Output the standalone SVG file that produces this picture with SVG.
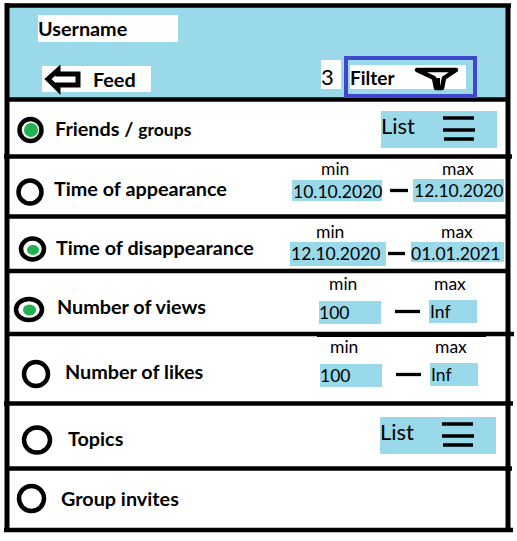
<svg xmlns="http://www.w3.org/2000/svg" width="517" height="541" viewBox="0 0 517 541">
<style>
text{font-family:Lato,"Liberation Sans",sans-serif;fill:#000}
.b{font-weight:700;font-size:19.800px}
.r{font-size:17.500px}
.box{fill:#99d9ea}
.w{fill:#fff}
.ln{stroke:#000;stroke-width:4.500;fill:none}
.d{stroke:#000;stroke-width:3.300;fill:none}
.rad{fill:#fff;stroke:#000;stroke-width:4.500}
.dot{fill:#22b14c}
</style>
<rect width="517" height="541" fill="#fff"/>
<rect id="header" x="8" y="6" width="500" height="93" class="box"/>
<g id="connectors">
<path class="ln" d="M7 3V532M508 6V532" style="stroke-width:5"/>
<path class="ln" d="M5 5.500H511"/>
<path class="ln" d="M5 99.500H508M4 156.500H512M5 216.500H508M5 271H508M5 334H514M4 403.500H513M5 468.500H512M4 530H513"/>
<path class="ln" d="M317 334.500H486" style="stroke-width:5"/>
</g>
<g id="username"><rect x="38" y="15" width="140" height="27" class="w"/><text x="38" y="36" class="b">Username</text></g>
<g id="feed"><rect x="42" y="66" width="109" height="26" class="w"/>
<path d="M48 79L58 70V74H78V85H58V89Z" fill="#fff" stroke="#000" stroke-width="5"/>
<text x="93" y="87" class="b">Feed</text></g>
<g id="count"><rect x="321" y="60" width="20" height="29" class="w"/><text x="321" y="85" style="font-size:22px">3</text></g>
<g id="filter"><rect x="346" y="58" width="129" height="38" class="box"/>
<rect x="350" y="65" width="116" height="24" class="w"/>
<path d="M346 58H475V96H346Z" fill="none" stroke="#3f48cc" stroke-width="4"/>
<text x="350" y="85" class="b" style="font-size:19px">Filter</text>
<path d="M417 70H456L444 78L442 88H436L434 78Z" fill="#fff" stroke="#000" stroke-width="4.500" stroke-linejoin="round"/>
<path d="M438 78V87" stroke="#000" stroke-width="4"/></g>
<g id="friends"><circle cx="30.500" cy="130" r="11" class="rad"/><circle cx="31" cy="130" r="7" class="dot"/>
<text x="55" y="136" class="b">Friends / <tspan style="font-size:17.500px">groups</tspan></text>
<rect x="381" y="111" width="116" height="37" class="box"/><text x="381" y="134" style="font-size:22px">List</text>
<path class="d" d="M443 118H474M443 130H475M444 139H474"/></g>
<g id="appearance"><circle cx="30" cy="192" r="11.500" class="rad"/><text x="54" y="196" class="b">Time of appearance</text>
<text x="321" y="175" class="r">min</text><text x="442" y="175" class="r">max</text>
<rect x="292" y="180" width="90" height="21" class="box"/><text x="293" y="198" class="r">10.10.2020</text>
<rect x="413" y="179" width="91" height="23" class="box"/><text x="414" y="197" class="r">12.10.2020</text>
<path class="d" d="M390 190.500H408"/></g>
<g id="disappearance"><ellipse cx="32.500" cy="249" rx="11.500" ry="10.500" class="rad"/><ellipse cx="33" cy="250" rx="6" ry="5" class="dot"/><text x="56" y="255" class="b">Time of disappearance</text>
<text x="316" y="238" class="r">min</text><text x="441" y="238" class="r">max</text>
<rect x="290" y="242" width="96" height="24" class="box"/><text x="291" y="260" class="r">12.10.2020</text>
<rect x="411" y="242" width="93" height="20" class="box"/><text x="411" y="260" class="r">01.01.2021</text>
<path class="d" d="M388 253.500H405"/></g>
<g id="views"><ellipse cx="29" cy="309.500" rx="13" ry="10.500" class="rad"/><ellipse cx="29.500" cy="310" rx="6.500" ry="5.500" class="dot"/><text x="57" y="314" class="b">Number of views</text>
<text x="329" y="290" class="r">min</text><text x="434" y="290" class="r">max</text>
<rect x="319" y="301" width="62" height="23" class="box"/><text x="319" y="319" class="r">100</text>
<rect x="429" y="300" width="48" height="23" class="box"/><text x="430" y="318" class="r">Inf</text>
<path class="d" d="M395 311.500H420"/></g>
<g id="likes"><circle cx="36" cy="374" r="12" class="rad"/><text x="65" y="379" class="b">Number of likes</text>
<text x="330" y="353" class="r">min</text><text x="435" y="353" class="r">max</text>
<rect x="320" y="364" width="62" height="23" class="box"/><text x="320" y="382" class="r">100</text>
<rect x="430" y="363" width="48" height="23" class="box"/><text x="431" y="381" class="r">Inf</text>
<path class="d" d="M396 374.500H421"/></g>
<g id="topics"><ellipse cx="37" cy="440" rx="13" ry="12.500" class="rad"/><text x="68" y="446" class="b">Topics</text>
<rect x="380" y="417" width="116" height="37" class="box"/><text x="380" y="440" style="font-size:22px">List</text>
<path class="d" d="M442 424H473M442 436H474M443 445H473"/></g>
<g id="invites"><circle cx="31.500" cy="498.500" r="12.500" class="rad"/><text x="61" y="506" class="b">Group invites</text></g>
</svg>
